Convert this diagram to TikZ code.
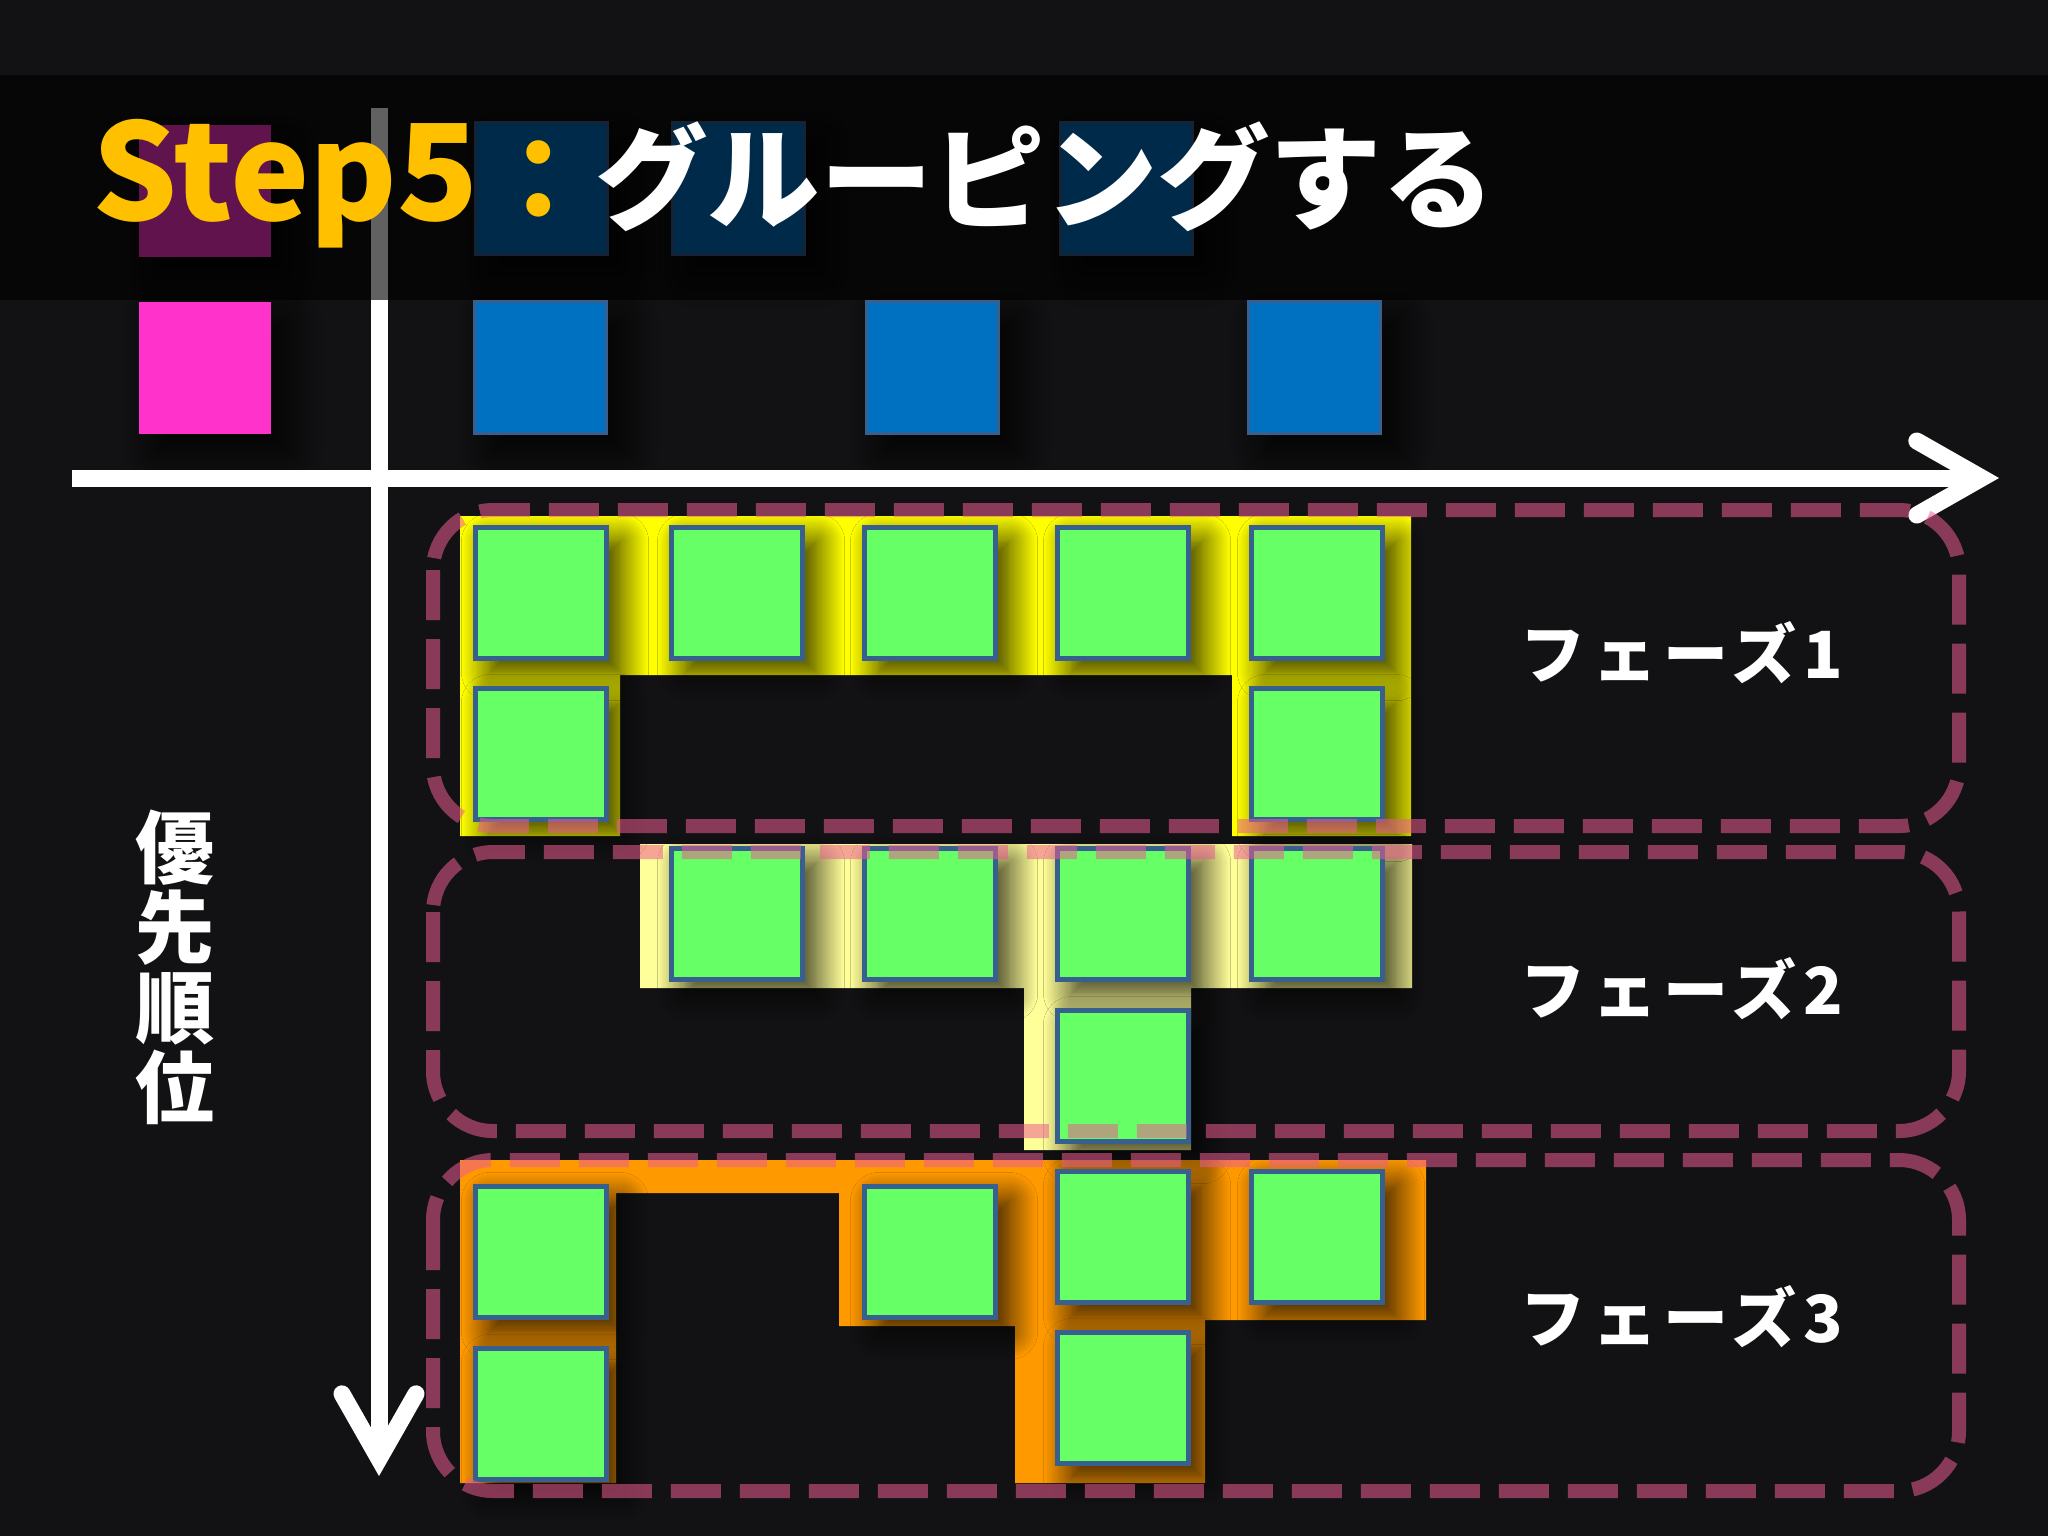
\documentclass[tikz,border=0pt]{standalone}
\usepackage{fontspec}
\newfontfamily\jpfont{Noto Sans CJK JP}
\usepackage{tikz}
\usetikzlibrary{positioning,arrows.meta,shadows.blur}
\definecolor{bgcol}{HTML}{121214}
\definecolor{gold}{HTML}{FFC000}
\definecolor{pinksq}{HTML}{FF33CC}
\definecolor{bluesq}{HTML}{0070C0}
\definecolor{sqedge}{HTML}{37608F}
\definecolor{greensq}{HTML}{66FF66}
\definecolor{phaseA}{HTML}{FFFF00}
\definecolor{phaseB}{HTML}{FFFF99}
\definecolor{phaseC}{HTML}{FF9900}
\definecolor{dashcol}{HTML}{EB5C90}
\tikzset{
  gsq/.style={draw=sqedge,line width=0.5mm,fill=greensq,minimum size=13.1mm,inner sep=0pt,anchor=north west,
    blur shadow={shadow xshift=4pt,shadow yshift=-4pt,shadow blur radius=8pt,shadow blur steps=24,shadow opacity=85}},
  topsq/.style={draw=sqedge,line width=0.3mm,fill=bluesq,minimum size=13.2mm,inner sep=0pt,anchor=north west,
    blur shadow={shadow xshift=5pt,shadow yshift=-5pt,shadow blur radius=10pt,shadow blur steps=24,shadow opacity=95}},
  phasebox/.style={draw=dashcol,draw opacity=0.55,line width=1.4mm,rounded corners=6mm,dash pattern=on 5mm off 1.9mm},
  axis/.style={draw=white,line width=1.7mm,-{Straight Barb[length=6.5mm,width=7.4mm,line cap=round]}},
  phaselbl/.style={text=white,font=\jpfont\bfseries\fontsize{18.5}{20}\selectfont\addfontfeatures{LetterSpace=10},anchor=west,inner sep=0pt},
}
\begin{document}
\begin{tikzpicture}[x=0.1mm,y=-0.1mm]
\useasboundingbox (0,0) rectangle (2048,1536);
\fill[bgcol] (0,0) rectangle (2048,1536);
% groups
\fill[phaseA] (460,516) -- (1411,516) -- (1411,836) -- (1232,836) -- (1232,675) -- (620,675) -- (620,836) -- (460,836) -- cycle;
\fill[phaseB] (640,844) -- (1412,844) -- (1412,988) -- (1191,988) -- (1191,1150) -- (1024,1150) -- (1024,988) -- (640,988) -- cycle;
\fill[phaseC] (460,1160) -- (1426,1160) -- (1426,1320) -- (1205,1320) -- (1205,1483) -- (1015,1483) -- (1015,1326) -- (839,1326) -- (839,1193) -- (616,1193) -- (616,1483) -- (460,1483) -- cycle;
% tasks
\foreach \n/\x/\y in {a1/473/525,a2/669/525,a3/862/525,a4/1055/525,a5/1249/525,a6/473/686,a7/1249/686,
  b1/669/846,b2/862/846,b3/1055/846,b4/1249/846,b5/1055/1008,
  c1/473/1184,c2/862/1184,c3/1055/1169,c4/1249/1169,c5/473/1346,c6/1055/1330}
  \node[gsq] (\n) at (\x,\y) {};
% members
\node[topsq,fill=pinksq,draw=none] (pk0) at (137,123) {};
\node[topsq] (bl01) at (474,121) {};
\node[topsq] (bl02) at (671,121) {};
\node[topsq] (bl03) at (1059,121) {};
\node[topsq,fill=pinksq,draw=none] (pk1) at (137,300) {};
\node[topsq] (bl11) at (473,300) {};
\node[topsq] (bl12) at (865,300) {};
\node[topsq] (bl13) at (1247,300) {};
% axes
\coordinate (xs) at (72,478);
\coordinate (xe) at (1999,478);
\coordinate (ys) at (379,108);
\coordinate (ye) at (379,1476);
\draw[axis] (xs) -- (xe);
\draw[axis] (ys) -- (ye);
% title band
\fill[black,opacity=0.62] (0,75) rectangle (2048,300);
% phases
\draw[phasebox] (433,510) rectangle (1959,826);
\draw[phasebox] (433,852) rectangle (1959,1131);
\draw[phasebox] (433,1160) rectangle (1959,1491);
\node[phaselbl] (ph1) at (1520,653) {フェーズ1};
\node[phaselbl] (ph2) at (1520,989) {フェーズ2};
\node[phaselbl] (ph3) at (1520,1317) {フェーズ3};
\node[text=white,font=\jpfont\bfseries\fontsize{22.5}{22.8}\selectfont,align=center,inner sep=0pt] (prio) at (175,967) {優\\先\\順\\位};
\node[anchor=base west,inner sep=0pt,text=gold,font=\jpfont\bfseries\fontsize{38}{40}\selectfont] (step) at (92,220) {Step5};
\node[anchor=base west,inner sep=0pt,text=white,font=\jpfont\bfseries\fontsize{32}{34}\selectfont] (grp) at (482,220) {\textcolor{gold}{：}グルーピングする};
\end{tikzpicture}
\end{document}
